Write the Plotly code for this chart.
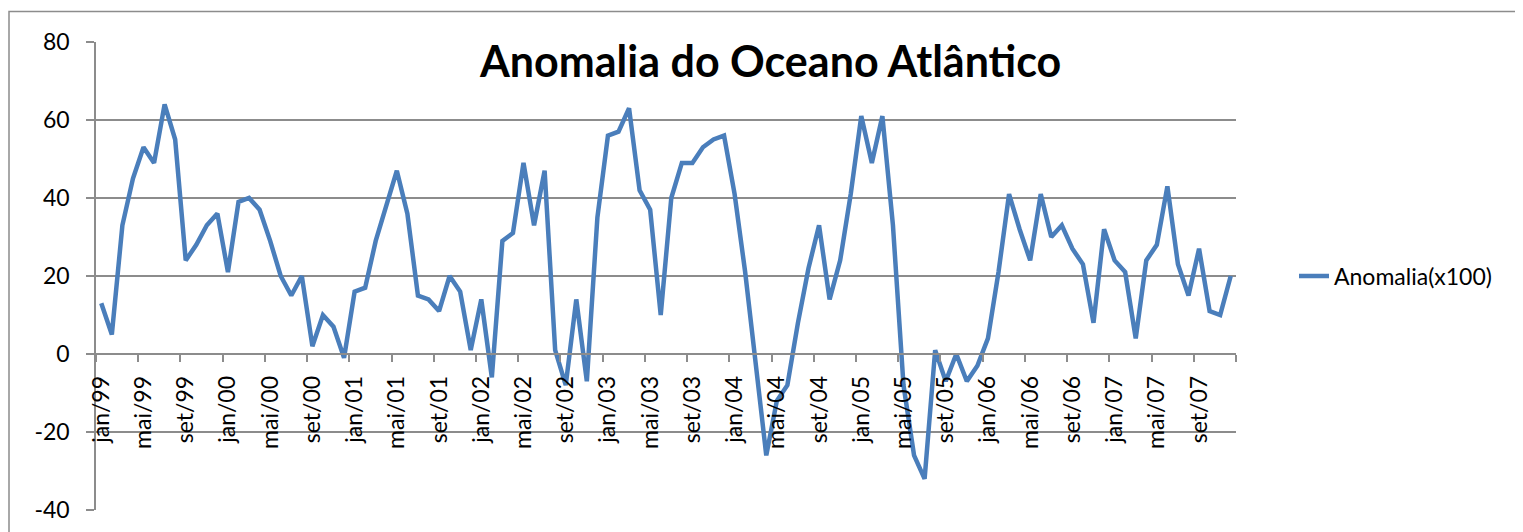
import plotly.graph_objects as go

# Monthly anomaly (x100), jan/1999 .. dez/2007
meses = ['jan', 'fev', 'mar', 'abr', 'mai', 'jun', 'jul', 'ago', 'set', 'out', 'nov', 'dez']
anos = ['99', '00', '01', '02', '03', '04', '05', '06', '07']
rotulos = [f"{m}/{a}" for a in anos for m in meses]

anomalia = [
    13, 5, 33, 45, 53, 49, 64, 55, 24, 28, 33, 36,      # 1999
    21, 39, 40, 37, 29, 20, 15, 20, 2, 10, 7, -1,       # 2000
    16, 17, 29, 38, 47, 36, 15, 14, 11, 20, 16, 1,      # 2001
    14, -6, 29, 31, 49, 33, 47, 1, -8, 14, -7, 35,      # 2002
    56, 57, 63, 42, 37, 10, 40, 49, 49, 53, 55, 56,     # 2003
    41, 21, -2, -26, -12, -8, 8, 22, 33, 14, 24, 41,    # 2004
    61, 49, 61, 33, -8, -26, -32, 1, -7, 0, -7, -3,     # 2005
    4, 21, 41, 32, 24, 41, 30, 33, 27, 23, 8, 32,       # 2006
    24, 21, 4, 24, 28, 43, 23, 15, 27, 11, 10, 20,      # 2007
]

y_ticks = [-40, -20, 0, 20, 40, 60, 80]
y_ticktext = [str(v) for v in y_ticks]   # plain hyphen, as in the original

serie_nome = 'Anomalia(x100)'
titulo = 'Anomalia do Oceano Atlântico'

x = list(range(len(anomalia)))
tick_idx = list(range(0, len(anomalia), 4))

fig = go.Figure()
fig.add_trace(go.Scatter(
    x=x, y=anomalia,
    mode='lines',
    name=serie_nome,
    line=dict(color='#4a7ebb', width=4.5),
))

grid = '#8c8c8c'
fonte = 'Lato, Carlito, Calibri, sans-serif'

# plot area is 1140 x 468 px; page body adds an 8px offset
L, T, W, H = 88, 34, 1140, 468

fig.update_layout(
    width=1523, height=532,
    margin=dict(l=L, r=1523 - L - W, t=T, b=532 - T - H),
    paper_bgcolor='white',
    plot_bgcolor='white',
    font=dict(family=fonte, size=23, color='black'),
    showlegend=True,
    legend=dict(
        x=(1286 - L) / W, y=0.5, xanchor='left', yanchor='middle',
        font=dict(size=23), bgcolor='rgba(0,0,0,0)',
    ),
    xaxis=dict(
        range=[-0.5, len(anomalia) - 0.5],
        tickmode='array',
        tickvals=tick_idx,
        ticktext=[rotulos[i] for i in tick_idx],
        tickangle=-90,
        ticks='',
        ticklabelstandoff=12,
        showgrid=False, zeroline=False,
        showline=True, linecolor=grid, linewidth=1.5,
        anchor='free', position=1 / 3,
        minor=dict(
            tickmode='array',
            tickvals=[i - 0.5 for i in range(0, len(anomalia) + 1, 4)],
            ticks='outside', ticklen=7, tickcolor=grid, tickwidth=1.5,
            showgrid=False,
        ),
        tickfont=dict(size=23),
    ),
    yaxis=dict(
        range=[-40, 80],
        tickmode='array',
        tickvals=y_ticks,
        ticktext=y_ticktext,
        showgrid=True, gridcolor=grid, gridwidth=1.5,
        zeroline=False,
        showline=True, linecolor=grid, linewidth=1.5,
        ticks='outside', ticklen=8, tickcolor=grid, tickwidth=1.5,
        ticklabelstandoff=12,
        tickfont=dict(size=23),
        domain=[0, 1],
    ),
)

fig.add_annotation(
    text=f"<b>{titulo}</b>",
    xref='paper', yref='paper',
    x=(762 - L) / W, y=(T + H - 53) / H,
    xanchor='center', yanchor='middle',
    showarrow=False,
    font=dict(size=43, family=fonte, color='black'),
)

# chart frame (Excel chart area border), runs off the right and bottom edges
fig.add_shape(
    type='rect', xref='paper', yref='paper',
    x0=(1 - L) / W, x1=(1560 - L) / W,
    y0=(T + H - 600) / H, y1=(T + H - 3.5) / H,
    line=dict(color=grid, width=1.5),
    layer='below',
)

fig.write_html("out.html")
